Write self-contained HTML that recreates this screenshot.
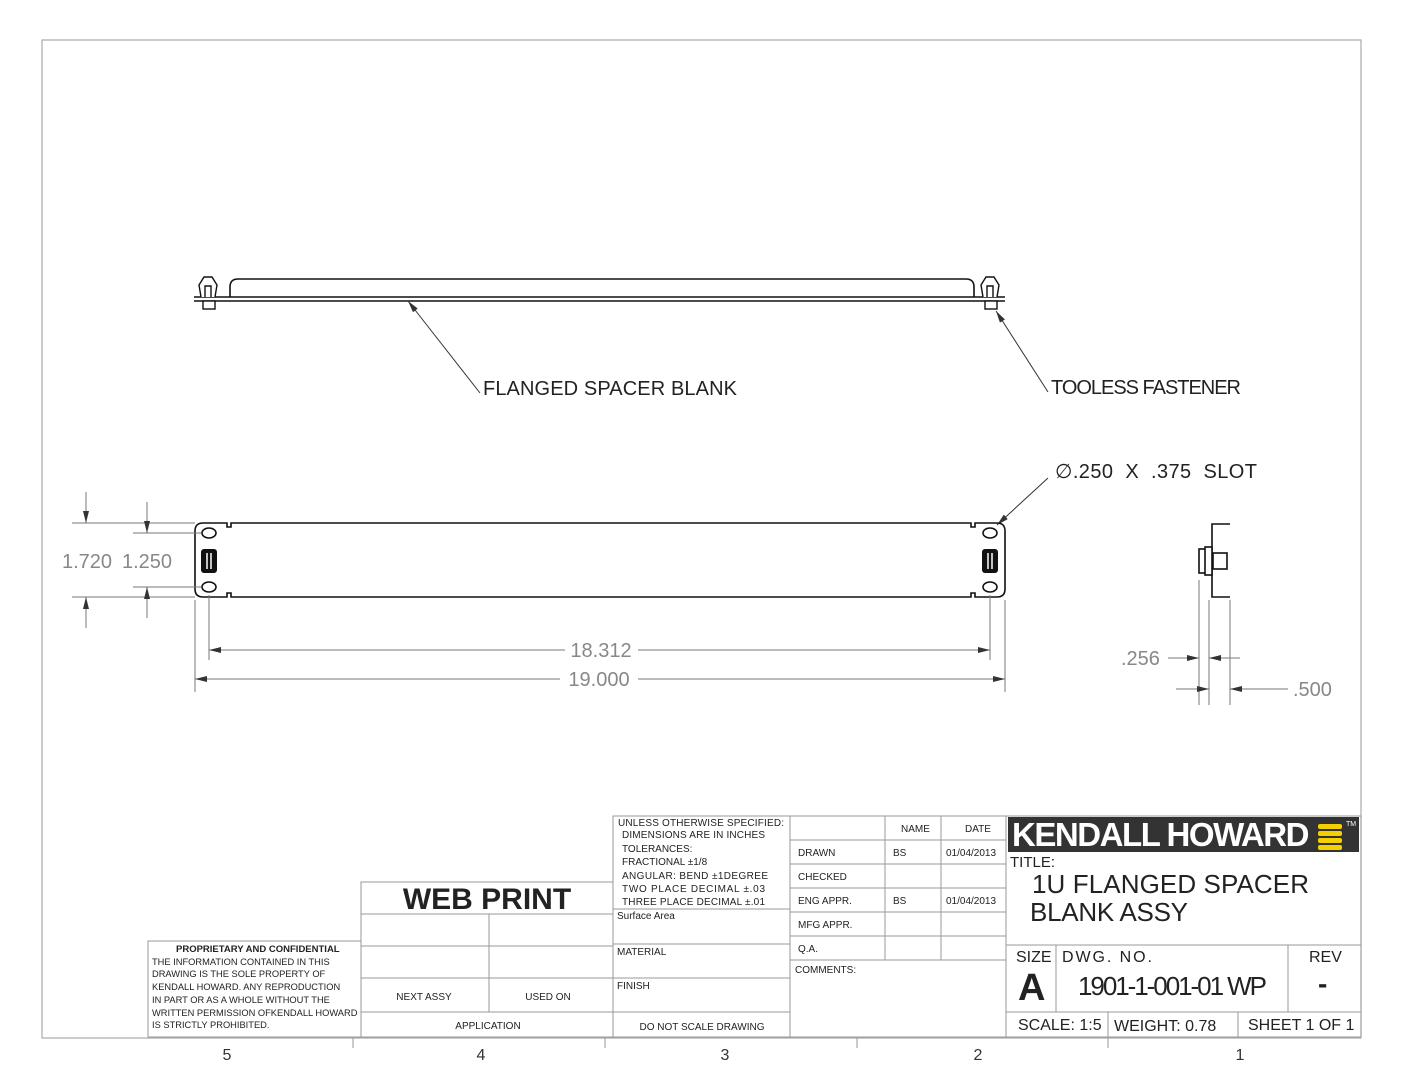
<!DOCTYPE html>
<html><head><meta charset="utf-8"><style>
html,body{margin:0;padding:0;background:#fff;}
svg{display:block;font-family:"Liberation Sans",sans-serif;}
</style></head><body>
<svg width="1408" height="1088" viewBox="0 0 1408 1088" xmlns="http://www.w3.org/2000/svg">
<defs>
<marker id="a" markerWidth="12" markerHeight="6" refX="12" refY="3" orient="auto" markerUnits="userSpaceOnUse"><path d="M0,0 L12,3 L0,6 z" fill="#333"/></marker>
</defs>
<rect x="42" y="40" width="1319" height="998" fill="none" stroke="#aaa" stroke-width="1.2"/>

<!-- Top view -->
<g stroke="#111" stroke-width="1.6" fill="none">
<path d="M194,297 H1005 M194,301 H1005"/>
<path d="M230,297 V287 Q230,279 238,279 H966 Q974,279 974,287 V297"/>
</g>
<g stroke="#111" stroke-width="1.4" fill="#fff">
<path d="M201,297 L199,285 L204,277 L212,277 L217,285 L215,297"/>
<path d="M205,297 L205,286 L211,286 L211,297"/>
<rect x="203" y="301" width="12" height="8"/>
<path d="M983,297 L981,285 L986,277 L994,277 L999,285 L997,297"/>
<path d="M987,297 L987,286 L993,286 L993,297"/>
<rect x="985" y="301" width="12" height="8"/>
</g>
<g stroke="#333" stroke-width="1" fill="none">
<line x1="480" y1="393" x2="408" y2="301" marker-end="url(#a)"/>
<line x1="1048" y1="392" x2="996" y2="311" marker-end="url(#a)"/>
<line x1="1048" y1="478" x2="997" y2="525" marker-end="url(#a)"/>
</g>
<g font-size="20" fill="#222">
<text x="483" y="395" textLength="254">FLANGED SPACER BLANK</text>
<text x="1051" y="394" textLength="190">TOOLESS FASTENER</text>
<text x="1055" y="478" textLength="202" xml:space="preserve">∅.250  X  .375  SLOT</text>
</g>

<!-- Front view -->
<g stroke="#111" stroke-width="1.6" fill="none">
<path d="M203,523 H227 V527 H231 V523 H971 V527 H975 V523 H997 Q1005,523 1005,531 V589 Q1005,597 997,597 H975 V593 H971 V597 H231 V593 H227 V597 H203 Q195,597 195,589 V531 Q195,523 203,523 Z"/>
<ellipse cx="209" cy="533" rx="7" ry="5"/><ellipse cx="209" cy="587" rx="7" ry="5"/>
<ellipse cx="990" cy="533" rx="7" ry="5"/><ellipse cx="990" cy="587" rx="7" ry="5"/>
</g>
<g fill="#111"><rect x="201" y="549" width="16" height="24" rx="3"/><rect x="982" y="549" width="16" height="24" rx="3"/></g>
<g stroke="#fff" stroke-width="1.5"><line x1="207" y1="553" x2="207" y2="569"/><line x1="211" y1="553" x2="211" y2="569"/><line x1="988" y1="553" x2="988" y2="569"/><line x1="992" y1="553" x2="992" y2="569"/></g>

<!-- dims -->
<g stroke="#777" stroke-width="1" fill="none">
<line x1="72" y1="523" x2="195" y2="523"/><line x1="72" y1="597" x2="195" y2="597"/>
<line x1="133" y1="533" x2="201" y2="533"/><line x1="133" y1="587" x2="201" y2="587"/>
<line x1="86" y1="492" x2="86" y2="523" marker-end="url(#a)"/><line x1="86" y1="628" x2="86" y2="597" marker-end="url(#a)"/>
<line x1="147" y1="502" x2="147" y2="533" marker-end="url(#a)"/><line x1="147" y1="618" x2="147" y2="587" marker-end="url(#a)"/>
<line x1="209" y1="595" x2="209" y2="660"/><line x1="990" y1="595" x2="990" y2="660"/>
<line x1="195" y1="600" x2="195" y2="692"/><line x1="1005" y1="600" x2="1005" y2="692"/>
<line x1="565" y1="650" x2="209" y2="650" marker-end="url(#a)"/><line x1="638" y1="650" x2="990" y2="650" marker-end="url(#a)"/>
<line x1="560" y1="679" x2="195" y2="679" marker-end="url(#a)"/><line x1="638" y1="679" x2="1005" y2="679" marker-end="url(#a)"/>
<line x1="1199" y1="580" x2="1199" y2="705"/><line x1="1209" y1="600" x2="1209" y2="705"/><line x1="1230" y1="600" x2="1230" y2="705"/>
<line x1="1168" y1="658" x2="1199" y2="658" marker-end="url(#a)"/><line x1="1240" y1="658" x2="1209" y2="658" marker-end="url(#a)"/>
<line x1="1176" y1="689" x2="1209" y2="689" marker-end="url(#a)"/><line x1="1288" y1="689" x2="1230" y2="689" marker-end="url(#a)"/>
</g>
<g font-size="20" fill="#888">
<text x="62" y="568">1.720</text><text x="122" y="568">1.250</text>
<text x="601" y="657" text-anchor="middle">18.312</text>
<text x="599" y="686" text-anchor="middle">19.000</text>
<text x="1121" y="665">.256</text><text x="1293" y="696">.500</text>
</g>

<!-- side view -->
<g stroke="#111" stroke-width="1.6" fill="#fff">
<path d="M1230,524 H1212 V597 H1230"/>
<rect x="1199" y="549" width="7" height="24"/><rect x="1205" y="547" width="7" height="28"/>
<rect x="1213" y="553" width="14" height="16"/>
</g>

<!-- title block -->
<g stroke="#999" stroke-width="1" fill="none">
<rect x="148" y="941" width="213" height="96"/>
<rect x="361" y="882" width="252" height="155"/>
<path d="M361,914 H613 M361,946 H613 M361,978 H613 M361,1012 H613 M489,914 V1012"/>
<rect x="613" y="816" width="177" height="221"/>
<path d="M613,909 H790 M613,944 H790 M613,978 H790 M613,1012 H790"/>
<rect x="790" y="816" width="216" height="221"/>
<path d="M790,840 H1006 M790,864 H1006 M790,888 H1006 M790,912 H1006 M790,936 H1006 M790,960 H1006 M885,816 V960 M941,816 V960"/>
<rect x="1006" y="816" width="355" height="221"/>
<path d="M1006,945 H1361 M1006,1012 H1361 M1056,945 V1012 M1288,945 V1012 M1108,1012 V1037 M1238,1012 V1037"/>
<path d="M353,1038 V1048 M605,1038 V1048 M857,1038 V1048 M1108,1038 V1048"/>
</g>
<rect x="1008" y="817" width="351" height="35" fill="#333"/>
<text x="1012" y="846" font-size="33" font-weight="bold" fill="#fff" letter-spacing="-1.5" textLength="296">KENDALL HOWARD</text>
<g fill="#f5d000"><rect x="1318" y="824" width="24" height="5" rx="2"/><rect x="1318" y="831" width="24" height="5" rx="2"/><rect x="1318" y="838" width="24" height="5" rx="2"/><rect x="1318" y="845" width="24" height="5" rx="2"/></g>
<text x="1346" y="826" font-size="7" fill="#fff">TM</text>

<g fill="#222" font-size="10">
<text x="176" y="952" font-weight="bold" font-size="9.5">PROPRIETARY AND CONFIDENTIAL</text>
<text x="152" y="965" font-size="9.3">THE INFORMATION CONTAINED IN THIS</text>
<text x="152" y="977" font-size="9.3">DRAWING IS THE SOLE PROPERTY OF</text>
<text x="152" y="990" font-size="9.3">KENDALL HOWARD.  ANY REPRODUCTION</text>
<text x="152" y="1003" font-size="9.3">IN PART OR AS A WHOLE WITHOUT THE</text>
<text x="152" y="1016" font-size="9.3">WRITTEN PERMISSION OFKENDALL HOWARD</text>
<text x="152" y="1028" font-size="9.3">IS STRICTLY PROHIBITED.</text>
<text x="487" y="909" font-size="30" font-weight="bold" text-anchor="middle">WEB PRINT</text>
<text x="424" y="1000" text-anchor="middle">NEXT ASSY</text>
<text x="548" y="1000" text-anchor="middle">USED ON</text>
<text x="488" y="1029" text-anchor="middle">APPLICATION</text>
<text x="702" y="1030" text-anchor="middle">DO NOT SCALE DRAWING</text>
<text x="618" y="826" textLength="166">UNLESS OTHERWISE SPECIFIED:</text>
<text x="622" y="838" textLength="143">DIMENSIONS ARE IN INCHES</text>
<text x="622" y="852">TOLERANCES:</text>
<text x="622" y="865">FRACTIONAL ±1/8</text>
<text x="622" y="879" textLength="146">ANGULAR: BEND ±1DEGREE</text>
<text x="622" y="892" textLength="143">TWO PLACE DECIMAL  ±.03</text>
<text x="622" y="905" textLength="143">THREE PLACE DECIMAL ±.01</text>
<text x="617" y="919">Surface Area</text>
<text x="617" y="955">MATERIAL</text>
<text x="617" y="989">FINISH</text>
<text x="901" y="832">NAME</text><text x="965" y="832">DATE</text>
<text x="798" y="856">DRAWN</text><text x="893" y="856">BS</text><text x="946" y="856">01/04/2013</text>
<text x="798" y="880">CHECKED</text>
<text x="798" y="904">ENG APPR.</text><text x="893" y="904">BS</text><text x="946" y="904">01/04/2013</text>
<text x="798" y="928">MFG APPR.</text>
<text x="798" y="952">Q.A.</text>
<text x="795" y="973">COMMENTS:</text>
<text x="1010" y="867" font-size="15">TITLE:</text>
<text x="1032" y="893" font-size="26" textLength="277">1U FLANGED SPACER</text>
<text x="1030" y="921" font-size="26" textLength="158">BLANK ASSY</text>
<text x="1016" y="962" font-size="16">SIZE</text>
<text x="1018" y="1000" font-size="38" font-weight="bold">A</text>
<text x="1062" y="962" font-size="16" textLength="90">DWG.  NO.</text>
<text x="1078" y="995" font-size="26" textLength="189">1901-1-001-01 WP</text>
<text x="1309" y="962" font-size="16">REV</text>
<text x="1318" y="993" font-size="28" font-weight="bold">-</text>
<text x="1018" y="1030" font-size="16">SCALE: 1:5</text>
<text x="1114" y="1031" font-size="16">WEIGHT: 0.78</text>
<text x="1248" y="1030" font-size="16">SHEET 1 OF 1</text>
</g>
<g font-size="16" fill="#333" text-anchor="middle">
<text x="227" y="1060">5</text><text x="481" y="1060">4</text><text x="725" y="1060">3</text><text x="978" y="1060">2</text><text x="1240" y="1060">1</text>
</g>
</svg>
</body></html>
